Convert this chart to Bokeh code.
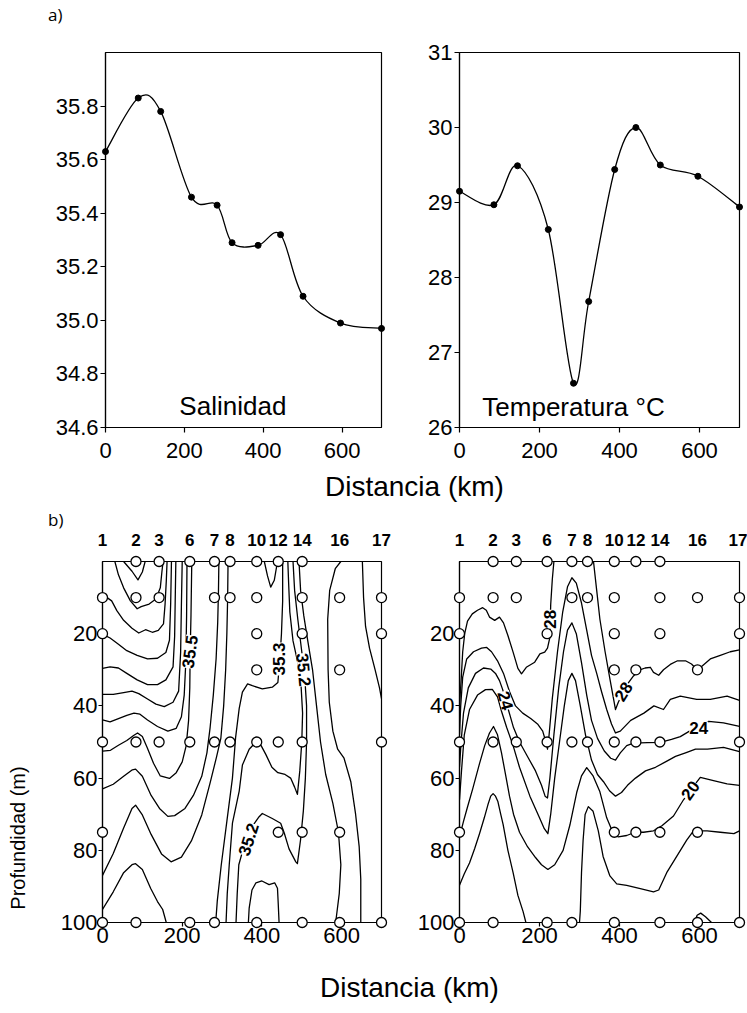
from bokeh.plotting import figure
from bokeh.models import Range1d, FixedTicker, Label, Div, NumeralTickFormatter, LinearAxis
from bokeh.layouts import column, row
from bokeh.embed import file_html
from bokeh.resources import INLINE

FONT = "Liberation Sans"

# ------------------------------------------------------------------ data
station_names = ["1", "2", "3", "6", "7", "8", "10", "12", "14", "16", "17"]
station_km = [0, 84, 142, 219, 281, 320, 387, 441, 501, 595, 700]

# a) surface values along the section
sal_km = [0, 83, 140, 218, 283, 321, 387, 444, 501, 596, 700]
sal_val = [35.63, 35.83, 35.78, 35.46, 35.43, 35.29, 35.28, 35.32, 35.09, 34.99, 34.97]
temp_km = [0, 86, 145, 222, 285, 323, 388, 441, 502, 596, 700]
temp_val = [29.15, 28.97, 29.49, 28.64, 26.59, 27.68, 29.44, 30.00, 29.50, 29.35, 28.94]

sal_ticks = [34.6, 34.8, 35.0, 35.2, 35.4, 35.6, 35.8]
temp_ticks = [26, 27, 28, 29, 30, 31]
dist_ticks = [0, 200, 400, 600]
depth_ticks = [20, 40, 60, 80, 100]

# b) sampling depths (m) -> station positions (km)
sal_samples = {
    0: [84, 142, 219, 281, 320, 387, 441, 501],
    10: [0, 84, 142, 281, 320, 387, 501, 595, 700],
    20: [0, 387, 501, 700],
    30: [387, 595],
    50: [0, 84, 142, 219, 281, 320, 387, 441, 501, 700],
    75: [0, 441, 501, 595],
    100: [0, 84, 219, 281, 387, 501, 595, 700],
}
temp_samples = {
    0: [84, 142, 219, 281, 320, 387, 441, 501],
    10: [0, 84, 142, 281, 320, 387, 501, 595, 700],
    20: [0, 219, 387, 501, 700],
    30: [387, 441, 595],
    50: [0, 84, 142, 219, 281, 320, 387, 441, 501, 700],
    75: [0, 387, 441, 501, 595],
    100: [0, 84, 219, 281, 387, 501, 595, 700],
}

# salinity isolines (km, depth m) read from the section
SAL_V = [(53, 0), (74, 2.7), (89, 5.1), (100, 2.9), (107, 0)]
SAL_A = [(31, 0), (40, 3.7), (53, 7.3), (70, 10.9), (87, 13.1), (97, 12.5), (117, 11.8), (134, 10.4), (145, 7.3), (149, 2.9), (152, 0)]
SAL_C = [(0, 9.1), (23, 10.9), (36, 13.6), (53, 16.3), (74, 18.5), (91, 19.8), (108, 18.9), (125, 19.6), (140, 19.1), (153, 17.3), (157, 11.8), (160, 5.5), (162, 0)]
SAL_D = [(0, 20.1), (19, 21.2), (40, 22.9), (61, 24.7), (87, 26), (113, 27), (138, 26.8), (159, 25.2), (168, 21.8), (171, 11.8), (173, 0)]
SAL_E = [(0, 29.6), (19, 29.2), (40, 29.5), (61, 31), (87, 32.8), (113, 34.1), (138, 34.1), (159, 32.8), (177, 29.2), (181, 20.7), (184, 0)]
SAL_F = [(0, 36.8), (27, 36.8), (53, 36.3), (74, 35.9), (91, 36.6), (113, 38.1), (134, 39.5), (155, 40.2), (177, 39), (191, 35.9), (196, 25.2), (198, 11.8), (200, 0)]
SAL_G = [(0, 43.9), (19, 44.4), (40, 43.5), (61, 42.6), (79, 42), (94, 42.3), (113, 43.9), (138, 45.7), (164, 47), (185, 46.2), (198, 43), (205, 37), (209, 28), (211, 15), (212, 0)]
SAL_H = [(0, 52.5), (20, 52.3), (40, 50.9), (61, 49.6), (78, 48.2), (88, 47.5), (100, 48.5), (112, 51.5), (128, 55.9), (145, 59.4), (168, 60.1), (185, 58.5), (200, 55.5), (210, 51), (216, 44), (219, 35), (220, 25), (222, 15), (224, 0)]
SAL_I = [(0, 63), (27, 61.7), (53, 59.5), (75, 57.7), (83, 57.5), (100, 59.5), (122, 64.8), (143, 68.4), (164, 70.6), (181, 70.4), (207, 68.4), (228, 64.8), (249, 59.5), (262, 53), (270, 46), (278, 37), (285, 27), (289, 17), (291, 8), (292, 0)]
SAL_J = [(0, 87), (27, 80.9), (53, 73.8), (74, 68.4), (83, 67.5), (100, 70.2), (122, 75.6), (148, 81), (172, 83.2), (198, 81.9), (223, 77.4), (249, 70.2), (270, 61.3), (286, 54.2), (297, 48.9), (304, 40), (309, 30), (312, 20), (314, 10), (315, 0)]
SAL_K = [(0, 96.4), (27, 91.5), (53, 86.2), (74, 84), (83, 83.7), (100, 85.3), (121, 90.6), (138, 94.2), (151, 96.4), (160, 100)]
SAL_353 = [(452, 0), (452, 11), (449, 20), (445, 27), (440, 33.5), (426, 34.8), (401, 35.3), (376, 34.4), (364, 33.9), (351, 36.2), (343, 40.7), (334, 48.7), (326, 60), (312, 72), (298, 84), (288, 94), (284, 100)]
SAL_V2 = [(406, 0), (414, 4), (422, 7.1), (431, 5.2), (439, 0)]
SAL_PK = [(310, 100), (313, 92), (318, 84), (326, 72.5), (343, 63.6), (351, 56.4), (368, 52), (385, 50), (398, 51), (410, 53.5), (425, 57), (440, 58.5), (458, 59), (472, 60), (482, 62.5), (489, 64.5), (495, 58), (500, 50), (502, 42), (498, 34), (490, 28), (478, 22), (470, 14), (467, 6), (465, 0)]
SAL_352 = [(335, 100), (338, 92), (342, 84), (352, 80), (365, 77), (378, 73), (393, 70.7), (401, 69.8), (426, 71.2), (447, 72.5), (456, 75.2), (468, 79.6), (485, 83.2), (489, 83.7), (497, 77), (504, 69), (509, 60), (512, 50), (512, 40), (508, 33), (500, 25), (490, 16), (482, 8), (478, 0)]
SAL_ISL = [(366, 100), (368, 96), (375, 91), (385, 89), (400, 88.5), (418, 89.5), (432, 89), (439, 90.5), (441, 95), (443, 100)]
SAL_C2 = [(493, 0), (497, 8), (505, 15), (515, 22), (527, 30), (537, 40), (547, 50), (560, 59), (578, 67), (592, 75), (598, 84), (594, 92), (585, 100)]
SAL_16 = [(598, 0), (584, 2), (570, 8), (565, 16), (566, 30), (569, 39), (578, 47), (590, 52), (606, 54.5), (623, 61), (635, 70), (644, 79), (648, 88), (648, 100)]
SAL_R = [(652, 0), (655, 10), (660, 18), (670, 24), (684, 30), (695, 35), (700, 38)]
sal_lines = [SAL_V, SAL_A, SAL_C, SAL_D, SAL_E, SAL_F, SAL_G, SAL_H, SAL_I, SAL_J, SAL_K,
             SAL_353, SAL_V2, SAL_PK, SAL_352, SAL_ISL, SAL_C2, SAL_16, SAL_R]
sal_labels = [("35.5", 219, 25, 82), ("35.3", 444, 27, 90), ("35.2", 505, 30, -85), ("35.2", 366, 77, 72)]

# temperature isotherms (km, depth m)
TEM_28 = [(0, 40), (4, 33), (8, 25), (13, 20), (20, 16.5), (32, 14.5), (45, 13.5), (58, 12.8), (67, 13.5), (75, 15.4), (88, 16.3), (100, 15.4), (110, 17), (121, 20.5), (134, 25.1), (146, 29.6), (155, 31.1), (167, 29.3), (188, 27.9), (201, 25.6), (213, 25.1), (220, 24), (226, 21), (227, 16), (228, 12), (232, 5), (236, 0)]
TEM_R28 = [(335, 0), (343, 8), (351, 16), (364, 25), (376, 32.5), (385, 38), (390, 41), (397, 39), (410, 36), (423, 33.5), (435, 31.7), (451, 30), (464, 29.5), (477, 29.3), (485, 30.7), (498, 31.5), (510, 30), (527, 28.5), (545, 27.5), (565, 27.5), (580, 28.4), (594, 30), (606, 29), (627, 27), (652, 26), (677, 25), (700, 24.5)]
TEM_26 = [(0, 48), (3, 40), (8, 32), (18, 27), (35, 25), (55, 24), (68, 23.8), (80, 25), (95, 27.5), (110, 31), (125, 36), (140, 40), (158, 42), (178, 43.5), (195, 45), (208, 47), (216, 50), (220, 52), (224, 48), (232, 38), (245, 25), (258, 14), (270, 7), (281, 4.5), (292, 6), (305, 11.5), (318, 19), (330, 26), (343, 31), (355, 36), (368, 41), (380, 45), (390, 47.5), (402, 47), (428, 44), (461, 42), (486, 40), (510, 41), (527, 38.2), (552, 37.3), (593, 38.2), (627, 38.2), (669, 37.3), (700, 38.5)]
TEM_24 = [(0, 57), (4, 50), (10, 42), (22, 35), (40, 31), (60, 29.5), (78, 29.8), (90, 31), (100, 33), (108, 35.5), (115, 38.5), (122, 41), (135, 46), (150, 50), (170, 54), (190, 58), (205, 62), (214, 65), (220, 65.5), (226, 60), (236, 48), (248, 35), (260, 25), (270, 19), (281, 17), (292, 20), (305, 28), (318, 37), (330, 44), (345, 49), (362, 52.5), (378, 54.5), (390, 55), (402, 53), (418, 51), (435, 50.3), (470, 50.2), (502, 50.1), (530, 49.3), (552, 48.5), (575, 47), (598, 46), (623, 44.3), (660, 44.7), (700, 45.7)]
TEM_22 = [(0, 66), (5, 58), (12, 48), (25, 41), (45, 37), (65, 35.5), (82, 35.4), (95, 37.5), (105, 41.5), (118, 46), (134, 51), (150, 57), (176, 65), (200, 71), (212, 74), (221, 75.4), (228, 70), (238, 60), (250, 50), (262, 40), (272, 33), (281, 31), (290, 33), (302, 40), (315, 48), (330, 55), (345, 59), (360, 61), (375, 63.5), (390, 65), (405, 64), (420, 62), (440, 60), (465, 58), (490, 57), (515, 55.5), (540, 54), (565, 53), (590, 52), (620, 52), (660, 51.5), (700, 52.7)]
TEM_20 = [(0, 76.3), (10, 72), (20, 68), (33, 63), (50, 56), (63, 51), (75, 47.5), (85, 45.7), (95, 48), (105, 53), (115, 59), (125, 65), (135, 70), (150, 75), (170, 79), (190, 82), (205, 84), (221, 85.3), (238, 84), (259, 80), (276, 73), (293, 64), (305, 59.4), (318, 57.1), (334, 59.4), (351, 63.8), (368, 71), (385, 75.5), (397, 76.3), (418, 75.9), (439, 75), (460, 75), (485, 74.6), (506, 73.2), (535, 70.5), (560, 66), (577, 63.4), (602, 59.8), (635, 60.7), (669, 61.6), (700, 62)]
TEM_18 = [(0, 89.7), (12, 86.5), (25, 83.5), (38, 79.5), (50, 75.4), (62, 71), (71, 67.4), (78, 65), (84, 64.3), (90, 65), (96, 66.5), (103, 70), (109, 72.8), (121, 80), (134, 86.2), (146, 92.5), (159, 97), (166, 100)]
TEM_B = [(300, 100), (302, 96.9), (305, 86.2), (309, 77.2), (314, 70.1), (322, 67.9), (334, 69.2), (347, 74.6), (359, 81.7), (376, 87.1), (393, 89.3), (418, 89.7), (452, 90.6), (485, 91.5), (498, 91), (518, 86.2), (543, 81.7), (568, 77.2), (585, 74.6), (602, 74.6), (619, 74.6), (652, 75), (686, 75.4), (700, 74.6)]
TEM_BUMP = [(588, 100), (594, 98), (603, 97.4), (615, 98.4), (630, 100)]
temp_lines = [TEM_28, TEM_R28, TEM_26, TEM_24, TEM_22, TEM_20, TEM_18, TEM_B, TEM_BUMP]
temp_labels = [("28", 226, 16, 90), ("28", 410, 36, 58), ("24", 115, 38.5, -75), ("24", 598, 46, 0), ("20", 577, 63.4, 55)]

depth_label = "Profundidad (m)"


# ------------------------------------------------------------------ helpers
def make_fig(fw, fh, xr, yr, bl, br, bt, bb, tick_out, std_x, std_y):
    p = figure(frame_width=fw, frame_height=fh, x_range=xr, y_range=yr,
               min_border_left=bl, min_border_right=br, min_border_top=bt, min_border_bottom=bb,
               toolbar_location=None, output_backend="svg", title=None)
    p.xgrid.visible = False
    p.ygrid.visible = False
    p.outline_line_color = "black"
    p.outline_line_width = 1.2
    p.outline_line_alpha = 1.0
    p.background_fill_color = "white"
    p.border_fill_color = "white"
    for ax, std in ((p.xaxis[0], std_x), (p.yaxis[0], std_y)):
        ax.axis_line_color = "black"
        ax.axis_line_width = 1.2
        ax.major_tick_line_color = "black"
        ax.major_tick_line_width = 1.2
        ax.major_tick_out = tick_out
        ax.major_tick_in = 0
        ax.minor_tick_line_color = None
        ax.major_label_text_font = FONT
        ax.major_label_text_font_size = "22px"
        ax.major_label_text_color = "black"
        ax.major_label_standoff = std
    return p


def bezier_segments(xs, ys):
    seg = {k: [] for k in ("x0", "y0", "x1", "y1", "cx0", "cy0", "cx1", "cy1")}
    n = len(xs)
    for i in range(n - 1):
        xa, ya = (xs[i - 1], ys[i - 1]) if i > 0 else (xs[i], ys[i])
        xd, yd = (xs[i + 2], ys[i + 2]) if i + 2 < n else (xs[i + 1], ys[i + 1])
        seg["x0"].append(xs[i]); seg["y0"].append(ys[i])
        seg["x1"].append(xs[i + 1]); seg["y1"].append(ys[i + 1])
        seg["cx0"].append(xs[i] + (xs[i + 1] - xa) / 6.0)
        seg["cy0"].append(ys[i] + (ys[i + 1] - ya) / 6.0)
        seg["cx1"].append(xs[i + 1] - (xd - xs[i]) / 6.0)
        seg["cy1"].append(ys[i + 1] - (yd - ys[i]) / 6.0)
    return seg


def surface_panel(xs, ys, yr, ticks, fmt, bl, br, fw, name, name_x, name_y):
    p = make_fig(fw, 375, Range1d(0, 700), yr, bl, br, 22, 40, 5, 10, 2)
    p.xaxis[0].ticker = FixedTicker(ticks=dist_ticks)
    p.yaxis[0].ticker = FixedTicker(ticks=ticks)
    if fmt:
        p.yaxis[0].formatter = NumeralTickFormatter(format=fmt)
    p.bezier(**bezier_segments(xs, ys), line_color="black", line_width=1.3)
    p.scatter(xs, ys, marker="circle", size=6, fill_color="black", line_color="black", level="overlay")
    p.add_layout(Label(x=name_x, y=name_y, text=name, text_font=FONT, text_font_size="26px",
                       text_align="center", text_baseline="middle", text_color="black"))
    return p


def section_panel(lines, samples, labels, bl, br, fw):
    p = make_fig(fw, 361, Range1d(0, 700), Range1d(100, 0), bl, br, 30, 32, 4, 1, 1)
    p.xaxis[0].ticker = FixedTicker(ticks=dist_ticks)
    p.yaxis[0].ticker = FixedTicker(ticks=depth_ticks)
    top = LinearAxis(ticker=FixedTicker(ticks=station_km),
                     major_label_overrides={k: s for k, s in zip(station_km, station_names)},
                     axis_line_color=None, major_tick_line_color=None, minor_tick_line_color=None,
                     major_label_text_font=FONT, major_label_text_font_size="17px",
                     major_label_text_font_style="bold", major_label_text_color="black",
                     major_label_standoff=10)
    p.add_layout(top, "above")
    p.multi_line([[pt[0] for pt in ln] for ln in lines], [[pt[1] for pt in ln] for ln in lines],
                 line_color="black", line_width=1.3, line_join="round")
    sx, sy = [], []
    for d, kms in samples.items():
        sx += kms
        sy += [d] * len(kms)
    p.scatter(sx, sy, marker="circle", size=10, fill_color="white", line_color="black",
              line_width=1.3, level="overlay")
    for txt, x, y, ang in labels:
        p.add_layout(Label(x=x, y=y, text=txt, angle=ang, angle_units="deg", text_font=FONT,
                           text_font_size="17px", text_font_style="bold", text_color="black",
                           text_align="center", text_baseline="middle",
                           background_fill_color="white", background_fill_alpha=1.0))
    return p


# ------------------------------------------------------------------ panels
pa1 = surface_panel(sal_km, sal_val, Range1d(34.6, 36.0), sal_ticks, "0.0", 105, 14, 276,
                    "Salinidad", 323, 34.682)
pa2 = surface_panel(temp_km, temp_val, Range1d(26, 31), temp_ticks, None, 64, 8, 280,
                    "Temperatura \u00b0C", 285, 26.28)
pb1 = section_panel(sal_lines, sal_samples, sal_labels, 60, 14, 279)
pb2 = section_panel(temp_lines, temp_samples, temp_labels, 64, 8, 280)

SANS = "font-family:'Liberation Sans',Arial,sans-serif;"
OPEN = "font-family:'Open Sans',sans-serif;"
div_a = Div(text=f'<div style="{OPEN}font-size:17px;line-height:18px;padding:6px 0 0 48px;color:#000;">a)</div>',
            width=747, height=30, margin=(0, 0, 0, 0))
div_mid = Div(text=(f'<div style="position:relative;width:747px;height:63px;">'
                    f'<div style="position:absolute;left:325px;top:6px;{SANS}font-size:28px;line-height:28px;white-space:nowrap;color:#000;">Distancia (km)</div>'
                    f'<div style="position:absolute;left:48px;top:44px;{OPEN}font-size:17px;line-height:18px;color:#000;">b)</div>'
                    f'</div>'),
              width=747, height=63, margin=(0, 0, 0, 0))
div_ylab = Div(text=(f'<div style="position:relative;width:42px;height:423px;">'
                     f'<div style="position:absolute;left:18px;top:308px;transform:translate(-50%,-50%) rotate(-90deg);'
                     f'white-space:nowrap;{SANS}font-size:20px;line-height:20px;color:#000;">{depth_label}</div>'
                     f'</div>'),
               width=42, height=423, margin=(0, 0, 0, 0))
div_bot = Div(text=(f'<div style="position:relative;width:747px;height:60px;">'
                    f'<div style="position:absolute;left:320px;top:20px;{SANS}font-size:28px;line-height:28px;white-space:nowrap;color:#000;">Distancia (km)</div>'
                    f'</div>'),
              width=747, height=60, margin=(0, 0, 0, 0))

layout = column(div_a, row(pa1, pa2), div_mid, row(div_ylab, pb1, pb2), div_bot)

open("out.html", "w").write(file_html(layout, INLINE))
